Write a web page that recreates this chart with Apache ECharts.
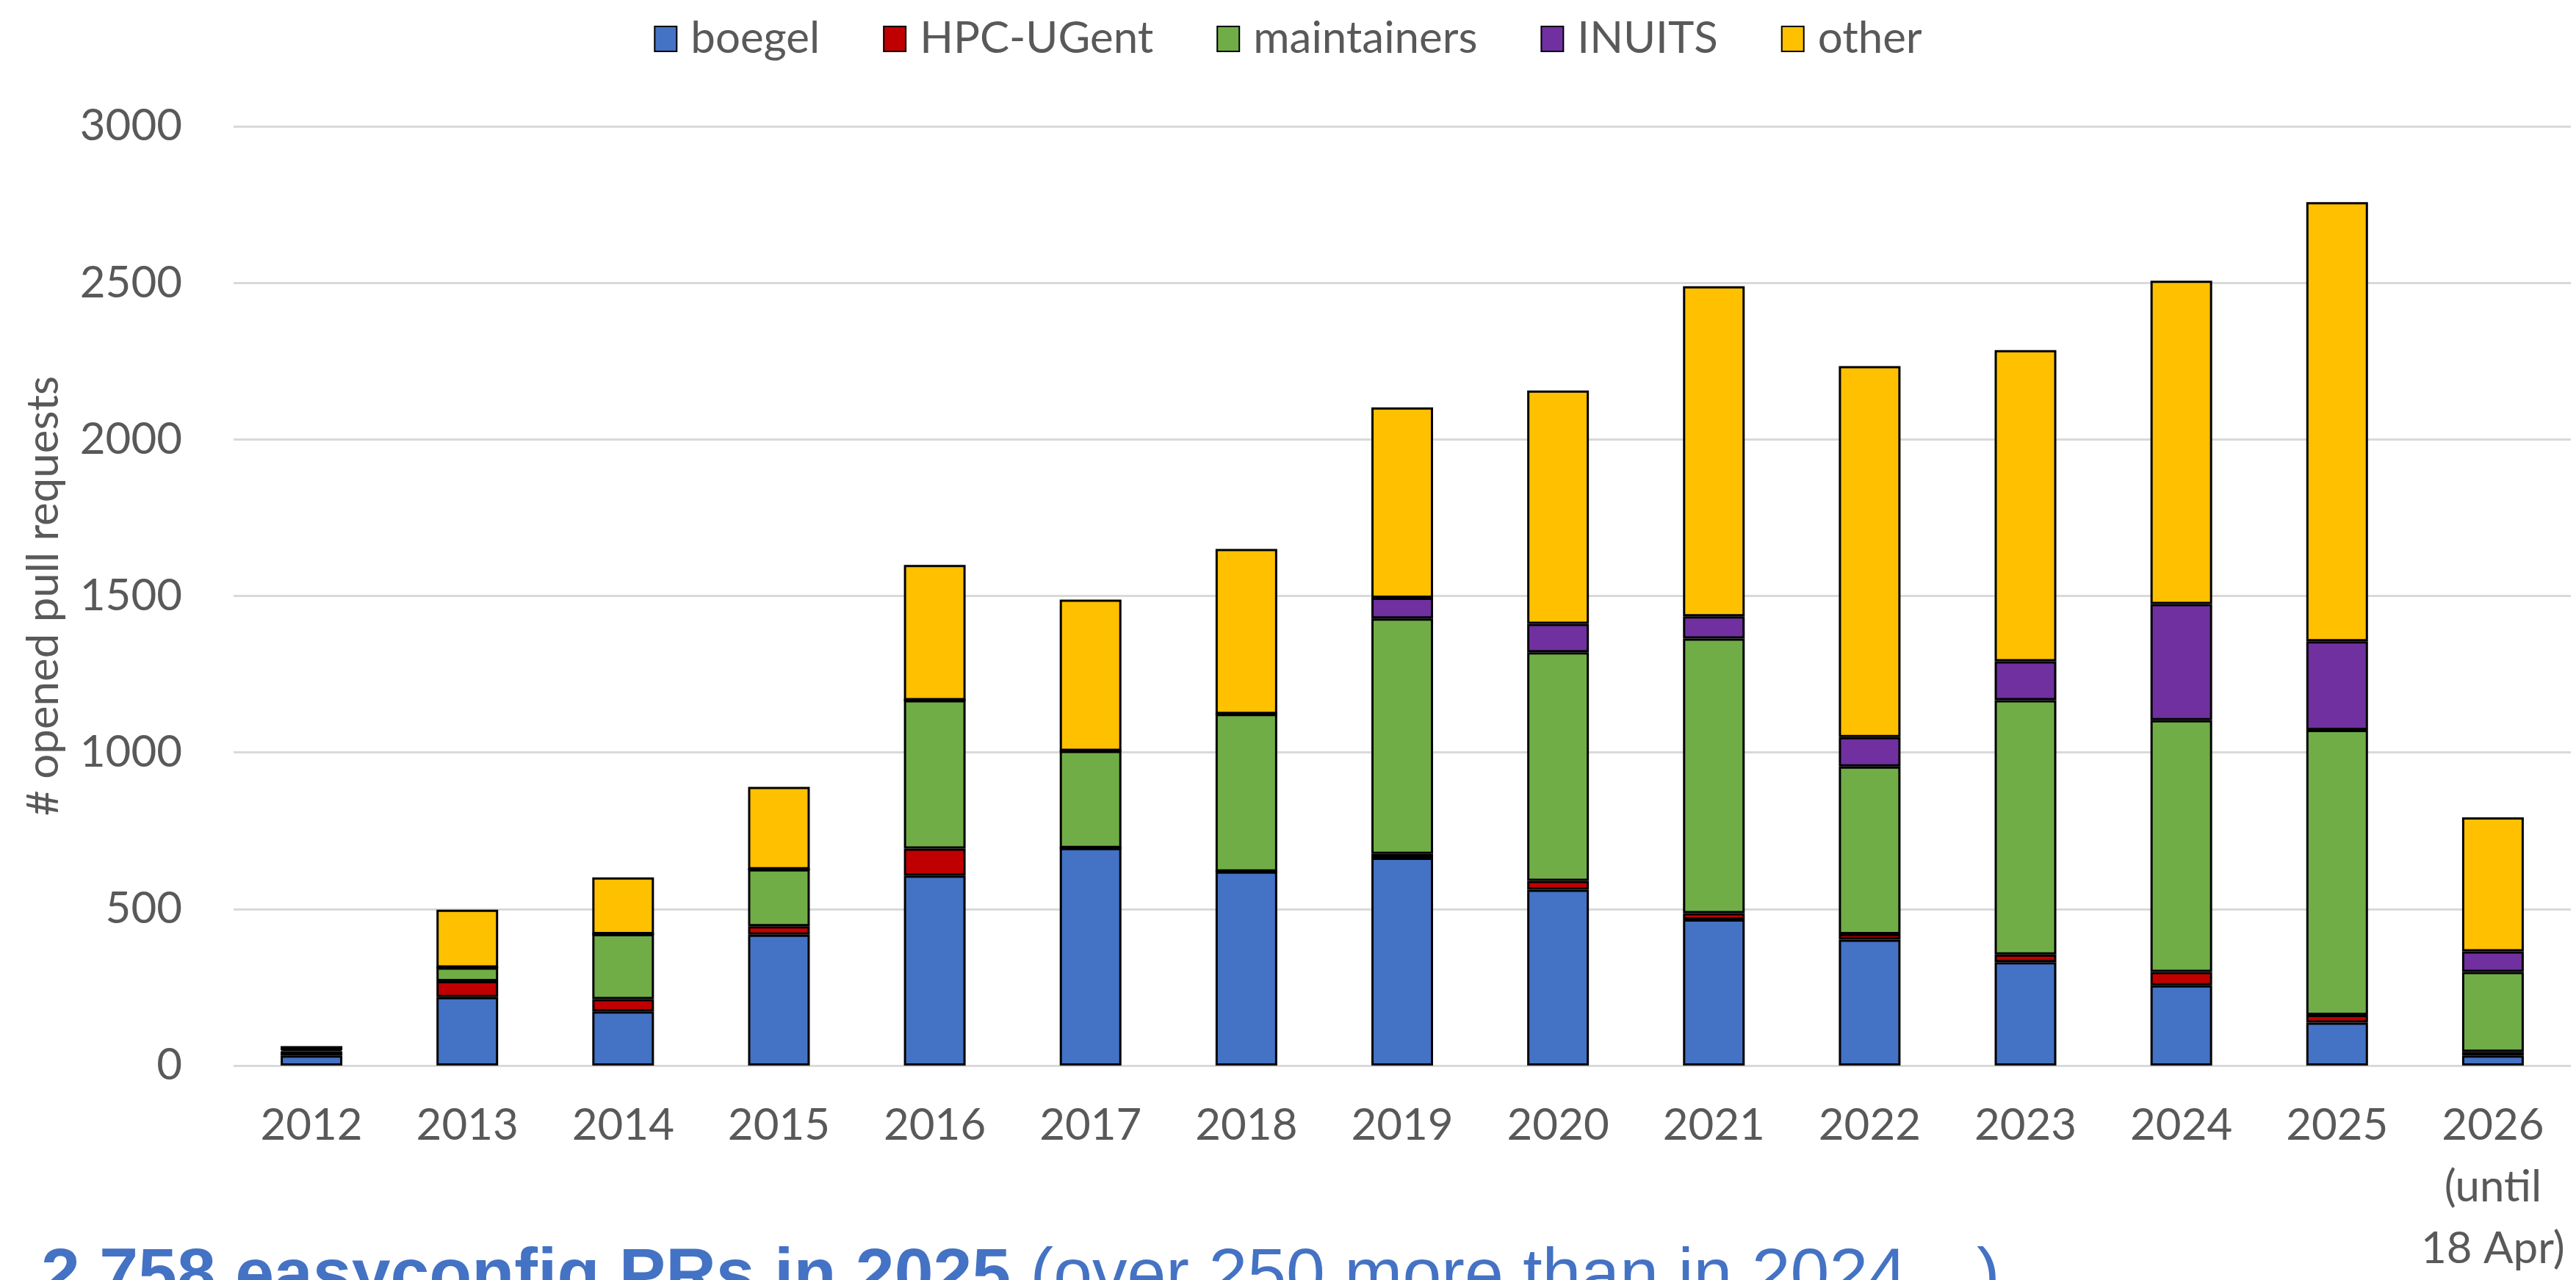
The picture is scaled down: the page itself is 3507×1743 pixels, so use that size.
<!DOCTYPE html>
<html>
<head>
<meta charset="utf-8">
<script src="https://cdn.jsdelivr.net/npm/echarts@6/dist/echarts.min.js"></script>
<style>
  html, body { margin: 0; padding: 0; background: #ffffff; }
  #chart { width: 3507px; height: 1743px; }
</style>
</head>
<body>
<div id="chart"></div>
<script>
// Opened easyconfig pull requests per year, split by who opened them
const years = ['2012', '2013', '2014', '2015', '2016', '2017', '2018', '2019',
               '2020', '2021', '2022', '2023', '2024', '2025', '2026'];
const yearLabels = ['2012', '2013', '2014', '2015', '2016', '2017', '2018', '2019',
                    '2020', '2021', '2022', '2023', '2024', '2025', '2026\n(until\n18 Apr)'];

const boegel      = [32, 219, 173, 418, 607, 695, 620, 664, 562, 467, 402, 330, 256, 137, 32];
const hpcUgent    = [14, 51, 39, 27, 86, 0, 0, 12, 28, 20, 18, 25, 43, 25, 12];
const maintainers = [6, 43, 208, 182, 474, 310, 503, 752, 730, 877, 535, 812, 804, 910, 255];
const inuits      = [0, 0, 0, 0, 0, 0, 0, 66, 91, 71, 94, 124, 371, 283, 66];
const other       = [10, 185, 181, 263, 432, 483, 527, 608, 745, 1054, 1185, 994, 1033, 1403, 428];

const seriesNames = ['boegel', 'HPC-UGent', 'maintainers', 'INUITS', 'other'];
const seriesData = [boegel, hpcUgent, maintainers, inuits, other];
const seriesColors = ['#4472C4', '#C00000', '#70AD47', '#7030A0', '#FFC000'];

const yMin = 0, yMax = 3000, yStep = 500;

const labelFont = 'Lato, "Liberation Sans", sans-serif';
const textGrey = '#595959';

// yearly totals, used for the caption underneath
const totals = years.map((_, i) => seriesData.reduce((s, arr) => s + arr[i], 0));
const idx2025 = years.indexOf('2025');
const total2025 = totals[idx2025].toLocaleString('en-US');

const chart = echarts.init(document.getElementById('chart'), null, { renderer: 'canvas' });

chart.setOption({
  backgroundColor: '#ffffff',
  animation: false,
  legend: {
    top: 18,
    left: 'center',
    icon: 'rect',
    itemWidth: 30,
    itemHeight: 34,
    itemGap: 86,
    textStyle: {
      fontFamily: labelFont,
      fontSize: 60,
      color: textGrey,
      padding: [0, 0, 0, 14]
    },
    data: seriesNames
  },
  grid: {
    left: 318,
    right: 7,
    top: 172,
    bottom: 289,
    containLabel: false
  },
  xAxis: {
    type: 'category',
    data: years,
    axisLine: { show: false },
    axisTick: { show: false },
    axisLabel: {
      interval: 0,
      margin: 40,
      fontFamily: labelFont,
      fontSize: 60,
      lineHeight: 84,
      color: textGrey,
      formatter: (value, i) => yearLabels[i]
    }
  },
  yAxis: {
    type: 'value',
    min: yMin,
    max: yMax,
    interval: yStep,
    name: '# opened pull requests',
    nameLocation: 'middle',
    nameGap: 228,
    nameTextStyle: {
      fontFamily: labelFont,
      fontSize: 60,
      color: textGrey
    },
    axisLine: { show: false },
    axisTick: { show: false },
    axisLabel: {
      margin: 70,
      fontFamily: labelFont,
      fontSize: 60,
      color: textGrey,
      formatter: (v) => String(v)
    },
    splitLine: {
      show: true,
      lineStyle: { color: '#D9D9D9', width: 3 }
    }
  },
  series: seriesNames.map((name, k) => ({
    name: name,
    type: 'bar',
    stack: 'total',
    barWidth: 84,
    data: seriesData[k],
    itemStyle: {
      color: seriesColors[k],
      borderColor: '#000000',
      borderWidth: 3
    },
    emphasis: { disabled: true }
  })),
  graphic: [{
    type: 'text',
    left: 56,
    top: 1692,
    silent: true,
    style: {
      text: '{b|' + total2025 + ' easyconfig PRs in 2025} {n|(over 250 more than in 2024…)}',
      rich: {
        b: {
          fontFamily: '"Liberation Sans", Arial, sans-serif',
          fontSize: 95,
          fontWeight: 'bold',
          fill: '#4472C4',
          lineHeight: 95
        },
        n: {
          fontFamily: '"Liberation Sans", Arial, sans-serif',
          fontSize: 95,
          fill: '#4472C4',
          lineHeight: 95
        }
      },
      fontFamily: '"Liberation Sans", Arial, sans-serif',
      fontSize: 95,
      fill: '#4472C4'
    }
  }]
});
</script>
</body>
</html>
